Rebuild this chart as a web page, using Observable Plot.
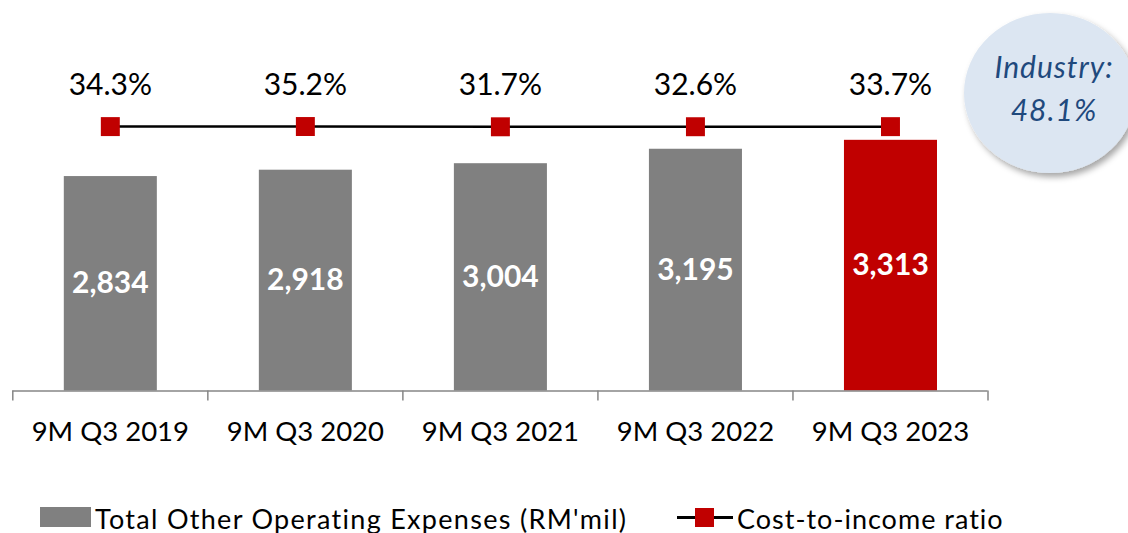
<!DOCTYPE html>
<html><head><meta charset="utf-8">
<script src="https://cdn.jsdelivr.net/npm/d3@7"></script>
<script src="https://cdn.jsdelivr.net/npm/@observablehq/plot@0.6"></script>
<style>
body{margin:0;background:#fff;font-family:Lato,"Open Sans",sans-serif;}
#legend{position:relative;height:43px;width:1128px;font-size:27px;color:#000;}
#legend .sw{position:absolute;left:40px;top:17px;width:51px;height:20px;background:#808080;}
#legend .t1{position:absolute;left:95px;top:28px;transform:translateY(-50%);white-space:nowrap;line-height:1;letter-spacing:1.3px;}
#legend .ln{position:absolute;left:677px;top:26px;width:56px;height:3px;background:#000;}
#legend .sq{position:absolute;left:695px;top:18px;width:19px;height:19px;background:#c00000;}
#legend .t2{position:absolute;left:737px;top:28px;transform:translateY(-50%);white-space:nowrap;line-height:1;letter-spacing:1px;}
</style></head><body><div id="chart"></div>
<div id="legend"></div>
<script>
// ---- data ----
const categories = ["9M Q3 2019", "9M Q3 2020", "9M Q3 2021", "9M Q3 2022", "9M Q3 2023"];
const expenses = [2834, 2918, 3004, 3195, 3313];
const ratios = [34.3, 35.2, 31.7, 32.6, 33.7];
const barLabels = ["2,834", "2,918", "3,004", "3,195", "3,313"];
const ratioLabels = ["34.3%", "35.2%", "31.7%", "32.6%", "33.7%"];
const industryText = ["Industry:", "48.1%"];
const highlight = "9M Q3 2023";
const seriesNames = ["Total Other Operating Expenses (RM'mil)", "Cost-to-income ratio"];
const boundaries = [0, 1, 2, 3, 4, 5];

const data = categories.map((c, i) => ({
  cat: c, i, exp: expenses[i], ratio: ratios[i],
  barLabel: barLabels[i], ratioLabel: ratioLabels[i]
}));

// secondary (ratio) axis expressed in primary-axis units (very wide range => nearly flat line)
const ratioAxis = d3.scaleLinear().domain([0, 100]).range([3460, 3560]);

const chart = Plot.plot({
  width: 1128, height: 490,
  marginLeft: 12.3, marginRight: 140.5, marginTop: 50, marginBottom: 99.5,
  x: {domain: [0, 5]},
  y: {domain: [0, 4500], axis: null},
  style: {fontFamily: "Lato, 'Open Sans', sans-serif", overflow: "visible", background: "white"},
  marks: [
    Plot.rectY(data, {
      x1: d => d.i, x2: d => d.i + 1, y1: 0, y2: "exp",
      insetLeft: 51.5, insetRight: 50.5,
      fill: d => d.cat === highlight ? "#c00000" : "#808080"
    }),
    Plot.ruleY([0], {x1: 0, x2: 5, stroke: "#868686", strokeWidth: 1.5}),
    Plot.axisX({ticks: boundaries, tickSize: 10, tickFormat: () => "", stroke: "#868686", strokeWidth: 1.5}),
    Plot.text(data, {x: d => d.i + 0.5, y: 0, dy: 41, text: "cat", fontSize: 27.5, fill: "#000"}),
    Plot.text(data, {x: d => d.i + 0.5, y: d => d.exp / 2, text: "barLabel", fill: "white", fontWeight: "bold", fontSize: 30}),
    Plot.line(data, {x: d => d.i + 0.5, y: d => ratioAxis(d.ratio), stroke: "#000", strokeWidth: 2.5}),
    Plot.dot(data, {x: d => d.i + 0.5, y: d => ratioAxis(d.ratio), symbol: "square", r: 10.7, fill: "#c00000"}),
    Plot.text(data, {x: d => d.i + 0.5, y: d => ratioAxis(d.ratio), dy: -41, text: "ratioLabel", fontSize: 30, fill: "#000"})
  ]
});

// Industry bubble annotation
const svg = d3.select(chart);
const defs = svg.append("defs");
const f = defs.append("filter").attr("id", "shadow").attr("x", "-20%").attr("y", "-20%").attr("width", "150%").attr("height", "150%");
f.append("feDropShadow").attr("dx", 3).attr("dy", 4).attr("stdDeviation", 3).attr("flood-color", "#000").attr("flood-opacity", 0.35);
const g = svg.append("g");
g.append("ellipse").attr("cx", 1050).attr("cy", 93).attr("rx", 86).attr("ry", 80)
  .attr("fill", "#dce6f2").attr("filter", "url(#shadow)");
g.selectAll("text").data(industryText).join("text")
  .attr("x", 1054).attr("y", (d, i) => 67 + i * 43).attr("dy", "0.35em")
  .attr("text-anchor", "middle").attr("font-style", "italic").attr("font-size", 30)
  .attr("letter-spacing", 1).attr("fill", "#1f497d").text(d => d);

document.getElementById("chart").appendChild(chart);

const lg = document.getElementById("legend");
lg.innerHTML = `<div class="sw"></div><div class="t1"></div><div class="ln"></div><div class="sq"></div><div class="t2"></div>`;
lg.querySelector(".t1").textContent = seriesNames[0];
lg.querySelector(".t2").textContent = seriesNames[1];
</script></body></html>
